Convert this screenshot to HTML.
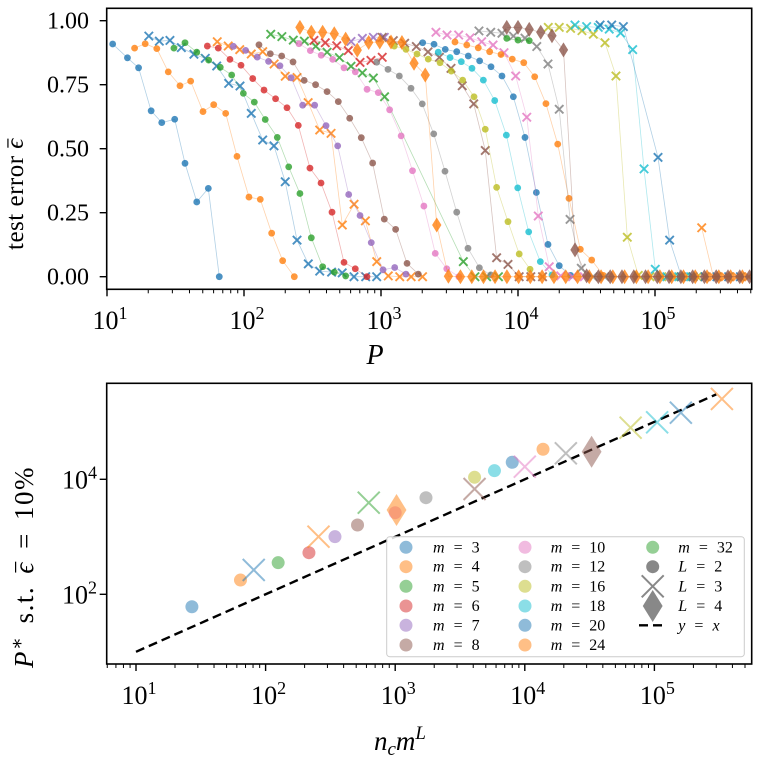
<!DOCTYPE html>
<html><head><meta charset="utf-8"><style>
html,body{margin:0;padding:0;background:#fff;}
svg{display:block;}
text{font-family:"Liberation Serif","DejaVu Serif",serif;fill:#000;}
</style></head><body>
<svg id="chart" width="760" height="760" viewBox="0 0 760 760" xmlns="http://www.w3.org/2000/svg"></svg>
<script>
// ---------- top panel data (P, test error) ----------
const p_m3L2=[11.0,14.1,17.0,21.0,25.1,31.2,37.1,45.2,54.9,66.0];
const e_m3L2=[.909,.855,.816,.648,.602,.615,.443,.292,.345,0];
const p_m4L2=[15.9,19.0,23.1,28.0,34.1,40.8,50.2,60.1,73.5,88.9,108.7,131.5,159.2,191.5,232.9];
const e_m4L2=[.893,.910,.891,.800,.746,.764,.645,.672,.638,.470,.311,.302,.170,.0625,0];
const p_m3L3=[20.2,24.1,28.8,34.9,43.1,52.2,63.2,77.3,93.5,113,136.9,165.5,200,243.8,294.6,357,436,521,635,773,930];
const e_m3L3=[.940,.920,.923,.895,.869,.853,.823,.755,.745,.638,.534,.511,.371,.143,.050,.022,.018,.015,0,0,0];
const p_m5L2=[30.8,37.1,45.2,55.2,67.1,81.3,98.9,118.9,142.9,175,212,256,310,375,456,552];
const e_m5L2=[.893,.914,.877,.846,.818,.788,.716,.682,.614,.544,.429,.325,.152,.039,.018,.003];
const p_m6L2=[54,64.9,79.0,95.1,115.8,140,170,206,249,303,365,439,537,649,790];
const e_m6L2=[.901,.893,.849,.826,.774,.729,.695,.660,.591,.424,.366,.252,.056,.031,0];
const p_m4L3=[63.8,76.7,93.1,113,137,166,200,244,294,357,432,522,636,769,931,1130,1370,1660,2010];
const e_m4L3=[.918,.901,.887,.870,.879,.831,.783,.778,.680,.573,.560,.202,.283,.218,.059,.003,0,0,0];
const p_m7L2=[83.6,102.8,125,151,183,221,268,328,397,483,581,703,849,1035,1259,1521];
const e_m7L2=[.900,.884,.858,.841,.824,.777,.670,.670,.590,.511,.321,.239,.133,.027,.036,.010];
const p_m8L2=[128.6,155.6,188.4,228,275,333,404,488,591,718,869,1057,1279,1549,1871];
const e_m8L2=[.906,.871,.862,.839,.767,.750,.723,.684,.619,.543,.444,.225,.185,.052,.010];
const p_m5L3=[156.7,189,229,276,334,404,497,604,731,879,1062,3990,4850,5900,7200];
const e_m5L3=[.947,.938,.924,.920,.900,.877,.856,.822,.796,.776,.703,.059,0,0,0];
const p_m6L3=[324,392,475,577,703,845,1021];
const e_m6L3=[.923,.914,.902,.883,.837,.845,.857];
const p_m7L3=[604,731,879,1057];
const e_m7L3=[.919,.931,.935,.935];
const p_m4L4=[256,310,375,456,552,671,813,980,1183,1422,1742,2104,2552,3105,3800,4600,5600,6800,8300,10100,12300,15000,18300,22300,27200,33100,40400,49200,60000,73100,89100,108600,132400,161400,196700,239800,292300,356300,434300];
const e_m4L4=[.974,.955,.955,.949,.928,.885,.915,.917,.917,.915,.834,.788,.202,.002,0,0,0,0,0,0,0,0,0,0,0,0,0,0,0,0,0,0,0,0,0,0,0,0,0];
const p_m10L2=[252,305,366,444,537,649,791,955,1156,1403,1698,2056,2489,3020,3700];
const e_m10L2=[.910,.883,.865,.849,.816,.800,.732,.719,.652,.550,.414,.276,.091,.031,0];
const p_m12L2=[931,1125,1361,1656,2000,2426,2931,3571,4315,5224,6324];
const e_m12L2=[.838,.810,.784,.736,.675,.558,.412,.252,.111,.035,.007];
const p_m8L3=[1021,1230,1489,1811,2203,2667,3243,3917,4753,5769,6982,8452,10200,12400,15100];
const e_m8L3=[.935,.922,.912,.899,.878,.857,.814,.746,.675,.493,.074,.048,0,0,0];
const p_m16L2=[1250,1521,1832,2213,2698,3258,3945,4775,5769,6982,8452,10207,12246];
const e_m16L2=[.901,.888,.870,.850,.836,.803,.768,.703,.576,.349,.215,.089,.029];
const p_m20L2=[2014,2438,2944,3571,4335,5248,6353,7638,9247,11246,13614,16557,20000,24210];
const e_m20L2=[.914,.908,.888,.879,.862,.843,.820,.784,.703,.544,.329,.126,.043,.005];
const p_m18L2=[2618,3192,3855,4613,5585,6761,8222,9954,11967,14552,17700];
const e_m18L2=[.877,.856,.840,.814,.768,.688,.553,.347,.175,.059,.007];
const p_m24L2=[3467,4227,5129,6209,7516,9078,11015,13243,15995,19498,23550,28510,34514,41976];
const e_m24L2=[.917,.905,.894,.879,.868,.850,.836,.781,.676,.518,.306,.107,.065,.005];
const p_m10L3=[2518,3034,3690,4467,5433,6577,7907,9616,11588,14060,16904,20512,25000,30500];
const e_m10L3=[.955,.944,.944,.933,.918,.905,.875,.784,.623,.237,.039,.003,0,0];
const p_m32L2=[8279,10000,12078];
const e_m32L2=[.931,.924,.922];
const p_m12L3=[5188,6324,7638,9250,11246,13709,16557,20000,23988,28973,35300,43000];
const e_m12L3=[.960,.955,.951,.940,.932,.899,.831,.654,.224,.033,0,0];
const p_m8L4=[8279,10000,12078,14655,17700,21478,26062,31696,38600,47100,57400,70000,85300,104000,126700,154500,188300,229500,279800,341000,415700,490000];
const e_m8L4=[.974,.974,.966,.955,.941,.886,.105,.003,0,0,0,0,0,0,0,0,0,0,0,0,0,0];
const p_m16L3=[16634,20000,24210,29300,35467,43152,51880,62780,75510,92000,112000,137000,167000,204000];
const e_m16L3=[.974,.974,.970,.961,.947,.914,.784,.154,.005,0,0,0,0,0];
const p_m18L3=[26062,31696,38548,46345,56105,68707,83176,100462,122000,149000,182000];
const e_m18L3=[.983,.977,.974,.967,.952,.887,.421,.029,0,0,0];
const p_m20L3=[39719,48306,58749,105200,127900,156000,190000,232000,283000,345000,420000];
const e_m20L3=[.983,.983,.977,.466,.143,0,0,0,0,0,0];
const p_m24L3=[219300,267000,326000,397000,484000];
const e_m24L3=[.191,0,0,0,0];

// ---------- bottom panel data (n_c m^L, P*) ----------
const b_labels=["m3L2","m4L2","m3L3","m5L2","m6L2","m4L3","m7L2","m8L2","m5L3","m10L2","m4L4","m12L2","m8L3","m16L2","m18L2","m20L2","m10L3","m24L2","m12L3","m8L4","m16L3","m18L3","m20L3","m24L3"];
const b_x=[27,64,81,125,216,256,343,512,625,1000,1024,1728,4096,4096,5832,8000,10000,13824,20736,32768,65536,104976,160000,331776];
const b_y=[60.8,177,265,355,529,1005,1005,1604,3917,2624,2924,4786,6780,10830,14125,19770,16560,33270,28310,30200,78890,97950,143900,249500];
const xTicksTop=[10,100,1000,10000,100000];
const yTicksTop=[0,0.25,0.5,0.75,1.0];
const yTickLabelsTop=["0.00","0.25","0.50","0.75","1.00"];
const xTicksBot=[10,100,1000,10000,100000];
const yTicksBot=[100,10000];
const legendLabels=["3","4","5","6","7","8","10","12","16","18","20","24","32"];

const C={blue:"#1f77b4",orange:"#ff7f0e",green:"#2ca02c",red:"#d62728",purple:"#9467bd",brown:"#8c564b",pink:"#e377c2",grey:"#7f7f7f",olive:"#bcbd22",cyan:"#17becf"};
const series=[
 ["m3L2",p_m3L2,e_m3L2,C.blue,"o"],["m4L2",p_m4L2,e_m4L2,C.orange,"o"],["m3L3",p_m3L3,e_m3L3,C.blue,"x"],
 ["m5L2",p_m5L2,e_m5L2,C.green,"o"],["m6L2",p_m6L2,e_m6L2,C.red,"o"],["m4L3",p_m4L3,e_m4L3,C.orange,"x"],
 ["m7L2",p_m7L2,e_m7L2,C.purple,"o"],["m8L2",p_m8L2,e_m8L2,C.brown,"o"],["m5L3",p_m5L3,e_m5L3,C.green,"x"],
 ["m10L2",p_m10L2,e_m10L2,C.pink,"o"],["m6L3",p_m6L3,e_m6L3,C.red,"x"],["m7L3",p_m7L3,e_m7L3,C.purple,"x"],
 ["m12L2",p_m12L2,e_m12L2,C.grey,"o"],["m8L3",p_m8L3,e_m8L3,C.brown,"x"],["m16L2",p_m16L2,e_m16L2,C.olive,"o"],
 ["m18L2",p_m18L2,e_m18L2,C.cyan,"o"],["m20L2",p_m20L2,e_m20L2,C.blue,"o"],["m10L3",p_m10L3,e_m10L3,C.pink,"x"],
 ["m24L2",p_m24L2,e_m24L2,C.orange,"o"],["m12L3",p_m12L3,e_m12L3,C.grey,"x"],["m32L2",p_m32L2,e_m32L2,C.green,"o"],
 ["m16L3",p_m16L3,e_m16L3,C.olive,"x"],["m18L3",p_m18L3,e_m18L3,C.cyan,"x"],["m20L3",p_m20L3,e_m20L3,C.blue,"x"],
 ["m24L3",p_m24L3,e_m24L3,C.orange,"x"],["m4L4",p_m4L4,e_m4L4,C.orange,"d"],["m8L4",p_m8L4,e_m8L4,C.brown,"d"]
];
const colorOf={m3:C.blue,m4:C.orange,m5:C.green,m6:C.red,m7:C.purple,m8:C.brown,m10:C.pink,m12:C.grey,m16:C.olive,m18:C.cyan,m20:C.blue,m24:C.orange,m32:C.green};

const NS="http://www.w3.org/2000/svg";
const svg=document.getElementById("chart");
function mk(tag,attrs,parent){const e=document.createElementNS(NS,tag);for(const k in attrs)e.setAttribute(k,attrs[k]);(parent||svg).appendChild(e);return e;}

const T={l:106.7,r:751.7,t:8.3,b:289.3};
const B={l:106.7,r:751.7,t:383.3,b:664};
const xTop=v=>107+137*(Math.log10(v)-1);
const yTop=v=>276.7-256*v;
const xBot=v=>136+129.6*(Math.log10(v)-1);
const yBot=v=>594.3-57.5*(Math.log10(v)-2);

function marker(g,type,x,y,color,s,op){
  let el;
  if(type==="o"){el=mk("circle",{cx:x,cy:y,r:s,fill:color,"fill-opacity":op},g);}
  else if(type==="x"){el=mk("path",{d:`M${x-s},${y-s}L${x+s},${y+s}M${x-s},${y+s}L${x+s},${y-s}`,stroke:color,"stroke-width":s>6?2:1.9,"stroke-opacity":op,fill:"none"},g);}
  else{const w=s*0.62,h=s;el=mk("path",{d:`M${x},${y-h}L${x+w},${y}L${x},${y+h}L${x-w},${y}Z`,fill:color,"fill-opacity":op},g);}
  return el;
}
function tickLabel(parent,x,y,anchor,exp){
  const t=mk("text",{x:x,y:y,"text-anchor":anchor,"font-size":26},parent);
  t.innerHTML='10<tspan dy="-10" font-size="18">'+exp+'</tspan>';
  return t;
}
// overbar over the epsilon character in a (possibly rotated) label
function epsBar(g,textEl){
  const s=textEl.textContent;const idx=s.indexOf("ϵ");
  if(idx<0)return;
  try{const b=textEl.getExtentOfChar(idx);
    mk("line",{x1:b.x+1,x2:b.x+b.width-0.5,y1:b.y+b.height*0.22,y2:b.y+b.height*0.22,stroke:"#000","stroke-width":1.2},g);}catch(e){}
}

// ----- TOP PANEL -----
const gt=mk("g",{});


const clipT=mk("clipPath",{id:"ct"});mk("rect",{x:T.l,y:T.t,width:T.r-T.l,height:T.b-T.t},clipT);
const gs=mk("g",{"clip-path":"url(#ct)"},gt);
series.forEach(s=>{
  const [name,P,E,col,mkType]=s;
  const g=mk("g",{},gs);
  
  
  const pts=P.map((p,i)=>xTop(p).toFixed(1)+","+yTop(E[i]).toFixed(1)).join(" ");
  mk("polyline",{points:pts,fill:"none",stroke:col,"stroke-width":0.8,"stroke-opacity":0.35},g);
  P.forEach((p,i)=>{
    const m=marker(g,mkType,xTop(p),yTop(E[i]),col,mkType==="o"?3.4:(mkType==="x"?4.2:7.5),0.8);
    
    
  });
});
mk("rect",{x:T.l,y:T.t,width:T.r-T.l,height:T.b-T.t,fill:"none",stroke:"#000","stroke-width":1.6},gt);
for(let d=1;d<=5;d++){for(let k=1;k<10;k++){const v=k*Math.pow(10,d);const x=xTop(v);if(x<T.l-0.5||x>T.r+0.5)continue;
  mk("line",{x1:x,x2:x,y1:T.b,y2:T.b+(k===1?7:4),stroke:"#000","stroke-width":k===1?1.4:1},gt);}}
xTicksTop.forEach(v=>{const t=tickLabel(gt,xTop(v)+3,329,"middle",Math.round(Math.log10(v)));
  });
yTicksTop.forEach((v,i)=>{const y=yTop(v);mk("line",{x1:T.l-7,x2:T.l,y1:y,y2:y,stroke:"#000","stroke-width":1.4},gt);
  const t=mk("text",{x:89,y:y+8,"text-anchor":"end","font-size":24},gt);t.textContent=yTickLabelsTop[i];
  });
let lab=mk("text",{x:375,y:364,"text-anchor":"middle","font-size":28,"font-style":"italic"});lab.textContent="P";

const gy1=mk("g",{transform:"translate(23,250) rotate(-90)"});
lab=mk("text",{x:0,y:0,"text-anchor":"start","font-size":25,"letter-spacing":"0.5"},gy1);
lab.innerHTML='test error <tspan font-style="italic">ϵ</tspan>';

epsBar(gy1,lab);

// ----- BOTTOM PANEL -----
const gb=mk("g",{});


const dl=mk("line",{x1:xBot(10),y1:yBot(10),x2:xBot(300000),y2:yBot(300000),stroke:"#000","stroke-width":2.4,"stroke-dasharray":"9,5"},gb);

b_labels.forEach((lb,i)=>{
  const m=lb.split("L")[0];const L=lb.split("L")[1];
  const type=L==="2"?"o":(L==="3"?"x":"d");
  const el=marker(gb,type,xBot(b_x[i]),yBot(b_y[i]),colorOf[m],type==="o"?6.5:(type==="x"?11:16),0.5);
  
  
});
mk("rect",{x:B.l,y:B.t,width:B.r-B.l,height:B.b-B.t,fill:"none",stroke:"#000","stroke-width":1.6},gb);
for(let d=0;d<=5;d++){for(let k=1;k<10;k++){const v=k*Math.pow(10,d);const x=xBot(v);if(x<B.l-0.5||x>B.r+0.5)continue;
  mk("line",{x1:x,x2:x,y1:B.b,y2:B.b+(k===1?7:4),stroke:"#000","stroke-width":k===1?1.4:1},gb);}}
xTicksBot.forEach(v=>{const t=tickLabel(gb,xBot(v)+3,704,"middle",Math.round(Math.log10(v)));
  });
yTicksBot.forEach(v=>{const y=yBot(v);mk("line",{x1:B.l-7,x2:B.l,y1:y,y2:y,stroke:"#000","stroke-width":1.4},gb);
  const t=tickLabel(gb,97,y+9,"end",Math.round(Math.log10(v)));
  });
lab=mk("text",{x:400,y:750,"text-anchor":"middle","font-size":27,"font-style":"italic"});
lab.innerHTML='n<tspan dy="5" font-size="19">c</tspan><tspan dy="-5">m</tspan><tspan dy="-11" font-size="19">L</tspan>';

const gy2=mk("g",{transform:"translate(33,668) rotate(-90)"});
lab=mk("text",{x:0,y:0,"text-anchor":"start","font-size":27,"word-spacing":"4","letter-spacing":"1.5"},gy2);
lab.innerHTML='<tspan font-style="italic">P</tspan><tspan dy="-10" font-size="19">∗</tspan><tspan dy="10"> s.t. </tspan><tspan font-style="italic">ϵ</tspan> = 10%';

epsBar(gy2,lab);

// ----- LEGEND -----
const lg=mk("g",{});


mk("rect",{x:386.7,y:536.7,width:357.6,height:120,rx:3,fill:"#fff","fill-opacity":0.85,stroke:"#ccc","stroke-width":1},lg);
const rowsY=[547.3,566.7,586.3,606,625.3,645];
const colX=[406,525,652.7], colT=[433,550.7,678.3];
legendLabels.forEach((lbl,i)=>{
  const c=i<6?0:(i<12?1:2), r=i<6?i:(i<12?i-6:0);
  const e=mk("g",{},lg);
  
  
  mk("circle",{cx:colX[c],cy:rowsY[r],r:6.5,fill:colorOf["m"+lbl],"fill-opacity":0.5},e);
  const t=mk("text",{x:colT[c],y:rowsY[r]+5,"font-size":16,"word-spacing":"5"},e);
  t.innerHTML='<tspan font-style="italic">m</tspan> = '+lbl;
});
const lExtra=[["L = 2","o"],["L = 3","x"],["L = 4","d"],["y = x","line"]];
lExtra.forEach((it,j)=>{
  const y=rowsY[j+1];
  const e=mk("g",{},lg);
  
  
  if(it[1]==="line")mk("line",{x1:639,x2:666,y1:y,y2:y,stroke:"#000","stroke-width":2.4,"stroke-dasharray":"9,5"},e);
  else marker(e,it[1],colX[2],y,"#555",it[1]==="o"?6.5:(it[1]==="x"?11:16),0.7);
  const p=it[0].split(" = ");
  const t=mk("text",{x:colT[2],y:y+5,"font-size":16,"word-spacing":"5"},e);
  t.innerHTML='<tspan font-style="italic">'+p[0]+'</tspan> = <tspan font-style="'+(p[1]==="x"?"italic":"normal")+'">'+p[1]+'</tspan>';
});
</script>
</body></html>
